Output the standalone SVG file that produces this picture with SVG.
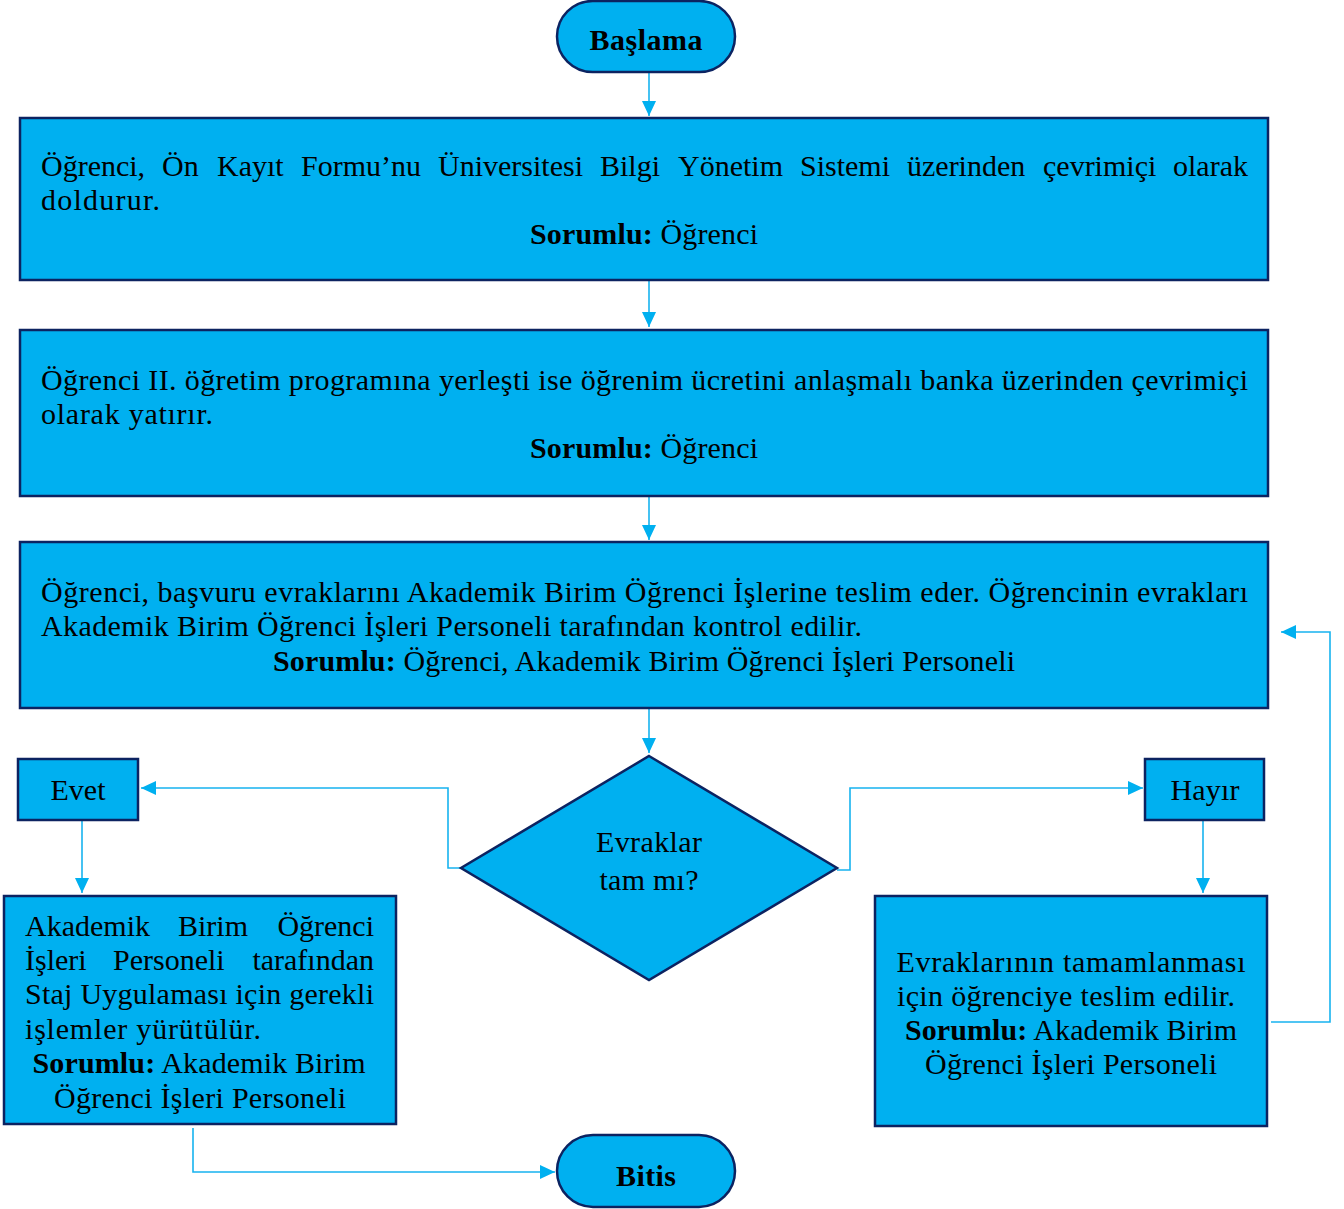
<svg xmlns="http://www.w3.org/2000/svg" width="1344" height="1209" viewBox="0 0 1344 1209">
<defs>
<style>
.n{fill:#00b0f0;stroke:#0c2361;stroke-width:2.5}
.t{font-family:"Liberation Serif","Times New Roman",serif;font-size:30px;fill:#000}
.c{text-anchor:middle}
.r{text-anchor:end}
.b{font-weight:bold}
.e{fill:none;stroke:#17b3ef;stroke-width:1.6}
</style>
<marker id="a" markerUnits="userSpaceOnUse" markerWidth="16" markerHeight="16" viewBox="0 0 16 16" refX="15" refY="8" orient="auto">
<path d="M0,1 L15,8 L0,15 Z" fill="#00b0f0"/>
</marker>
</defs>
<rect width="1344" height="1209" fill="#fff"/>
<g id="connectors">
<path class="e" d="M649,72 V116" marker-end="url(#a)"/>
<path class="e" d="M649,280 V327" marker-end="url(#a)"/>
<path class="e" d="M649,496 V540" marker-end="url(#a)"/>
<path class="e" d="M649,708 V753" marker-end="url(#a)"/>
<path class="e" d="M461,868 H448 V788 H141" marker-end="url(#a)"/>
<path class="e" d="M837,870 H850 V788 H1143" marker-end="url(#a)"/>
<path class="e" d="M82,820 V893" marker-end="url(#a)"/>
<path class="e" d="M1203,820 V893" marker-end="url(#a)"/>
<path class="e" d="M193,1128 V1172 H555" marker-end="url(#a)"/>
<path class="e" d="M1271,1022 H1330 V632 H1281" marker-end="url(#a)"/>
</g>
<g id="start">
<rect class="n" x="557" y="1" width="178" height="71" rx="35.5"/>
<text class="t c b" x="646" y="50" textLength="113">Başlama</text>
</g>
<g id="step1">
<rect class="n" x="20" y="118" width="1248" height="162"/>
<text class="t" y="176"><tspan x="41">Öğrenci,</tspan><tspan x="162">Ön</tspan><tspan x="217">Kayıt</tspan><tspan x="301">Formu’nu</tspan><tspan x="438">Üniversitesi</tspan><tspan x="600">Bilgi</tspan><tspan x="678">Yönetim</tspan><tspan x="800">Sistemi</tspan><tspan x="907">üzerinden</tspan><tspan x="1043">çevrimiçi</tspan></text>
<text class="t r" x="1248" y="176">olarak</text>
<text class="t" x="41" y="210" textLength="119">doldurur.</text>
<text class="t" x="530" y="244" textLength="228"><tspan class="b">Sorumlu:</tspan> Öğrenci</text>
</g>
<g id="step2">
<rect class="n" x="20" y="330" width="1248" height="166"/>
<text class="t" x="41" y="390" textLength="1207">Öğrenci II. öğretim programına yerleşti ise öğrenim ücretini anlaşmalı banka üzerinden çevrimiçi</text>
<text class="t" x="41" y="424" textLength="172">olarak yatırır.</text>
<text class="t" x="530" y="458" textLength="228"><tspan class="b">Sorumlu:</tspan> Öğrenci</text>
</g>
<g id="step3">
<rect class="n" x="20" y="542" width="1248" height="166"/>
<text class="t" x="41" y="602" textLength="1207">Öğrenci, başvuru evraklarını Akademik Birim Öğrenci İşlerine teslim eder. Öğrencinin evrakları</text>
<text class="t" x="41" y="636" textLength="821">Akademik Birim Öğrenci İşleri Personeli tarafından kontrol edilir.</text>
<text class="t" x="273" y="671" textLength="742"><tspan class="b">Sorumlu:</tspan> Öğrenci, Akademik Birim Öğrenci İşleri Personeli</text>
</g>
<g id="decision">
<polygon class="n" points="649,756 837,868 649,980 461,868"/>
<text class="t c" x="649" y="852" textLength="106">Evraklar</text>
<text class="t c" x="649" y="890" textLength="99">tam mı?</text>
</g>
<g id="evet">
<rect class="n" x="18" y="759" width="120" height="61"/>
<text class="t c" x="78" y="800" textLength="55">Evet</text>
</g>
<g id="hayir">
<rect class="n" x="1145" y="759" width="119" height="61"/>
<text class="t c" x="1205" y="800" textLength="69">Hayır</text>
</g>
<g id="left-step">
<rect class="n" x="4" y="896" width="392" height="228"/>
<text class="t" y="936"><tspan x="25">Akademik</tspan><tspan x="178">Birim</tspan></text>
<text class="t r" x="374" y="936">Öğrenci</text>
<text class="t" y="970"><tspan x="25">İşleri</tspan><tspan x="113">Personeli</tspan></text>
<text class="t r" x="374" y="970">tarafından</text>
<text class="t" x="25" y="1004" textLength="349">Staj Uygulaması için gerekli</text>
<text class="t" x="25" y="1039" textLength="236">işlemler yürütülür.</text>
<text class="t c" x="199" y="1073" textLength="333"><tspan class="b">Sorumlu:</tspan> Akademik Birim</text>
<text class="t c" x="200" y="1108" textLength="292">Öğrenci İşleri Personeli</text>
</g>
<g id="right-step">
<rect class="n" x="875" y="896" width="392" height="230"/>
<text class="t c" x="1071" y="972" textLength="349">Evraklarının tamamlanması</text>
<text class="t c" x="1066" y="1006" textLength="338">için öğrenciye teslim edilir.</text>
<text class="t c" x="1071" y="1040" textLength="332"><tspan class="b">Sorumlu:</tspan> Akademik Birim</text>
<text class="t c" x="1071" y="1074" textLength="292">Öğrenci İşleri Personeli</text>
</g>
<g id="end">
<rect class="n" x="557" y="1135" width="178" height="72" rx="36"/>
<text class="t c b" x="646" y="1186" textLength="60">Bitis</text>
</g>
</svg>
